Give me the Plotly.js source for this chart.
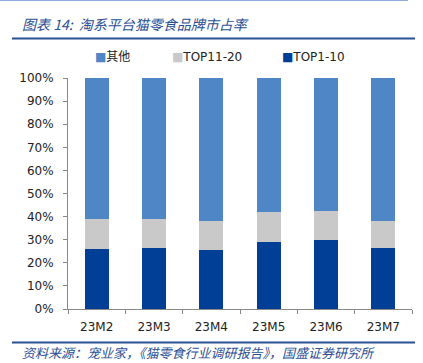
<!DOCTYPE html>
<html>
<head>
<meta charset="utf-8">
<script src="https://cdn.plot.ly/plotly-3.0.1.min.js"></script>
<style>html,body{margin:0;padding:0;background:#fff;}#chart{width:423px;height:363px;}</style>
</head>
<body>
<div id="chart"></div>
<script>
const categories = ['23M2', '23M3', '23M4', '23M5', '23M6', '23M7'];
const top1to10 = [0.261, 0.264, 0.257, 0.288, 0.299, 0.264];
const top11to20 = [0.127, 0.127, 0.124, 0.130, 0.125, 0.117];
const others = categories.map((c, i) => +(1 - top1to10[i] - top11to20[i]).toFixed(3));
const seriesNames = ['TOP1-10', 'TOP11-20', '其他'];
const titleText = '图表 14:  淘系平台猫零食品牌市占率';
const sourceText = '资料来源：宠业家，《猫零食行业调研报告》，国盛证券研究所';

const colors = ['#003F95', '#C9C9C9', '#4F86C6'];
const seriesVals = [top1to10, top11to20, others];

const data = seriesVals.map((v, i) => ({
  type: 'bar',
  name: seriesNames[i],
  x: categories,
  y: v,
  marker: {color: colors[i], line: {width: 0}},
  hoverinfo: 'skip',
  showlegend: false
}));

const H = 231, top0 = 78, W = 344, left0 = 68;
const py = p => (top0 + H - p) / H;
const px = p => (p - left0) / W;

// hand-drawn legend entries (order: 其他, TOP11-20, TOP1-10)
const legendX = [px(93), px(170), px(280)];
const legendAnn = [2, 1, 0].map((si, k) => ({
  xref: 'paper', yref: 'paper', x: legendX[k], y: py(57), xanchor: 'left', yanchor: 'middle',
  showarrow: false,
  text: '<span style="color:' + colors[si] + '">■</span>' + seriesNames[si],
  font: {family: 'DejaVu Sans, Noto Sans CJK SC, sans-serif', size: 12, color: '#222'}
}));

const layout = {
  width: 423, height: 363,
  margin: {l: 68, r: 11, t: 78, b: 54},
  paper_bgcolor: '#fff', plot_bgcolor: '#fff',
  barmode: 'stack',
  bargap: 0.58,
  font: {family: 'DejaVu Sans, sans-serif', size: 12, color: '#222'},
  showlegend: false,
  xaxis: {
    showline: true, linecolor: '#888', linewidth: 1,
    ticks: 'outside', tickson: 'boundaries', ticklen: 4, tickcolor: '#888',
    ticklabelstandoff: 7,
    showgrid: false, zeroline: false, fixedrange: true
  },
  yaxis: {
    range: [0, 1], dtick: 0.1, tickformat: '.0%',
    showline: true, linecolor: '#888', linewidth: 1,
    ticks: 'outside', ticklen: 4, tickcolor: '#888',
    ticklabelstandoff: 7,
    showgrid: false, zeroline: false, fixedrange: true
  },
  annotations: legendAnn.concat([
    {xref: 'paper', yref: 'paper', x: px(20), y: py(24), xanchor: 'left', yanchor: 'middle',
     text: '<i>' + titleText + '</i>', showarrow: false,
     font: {family: 'Noto Sans CJK SC, sans-serif', size: 14, color: '#2A4F95'}},
    {xref: 'paper', yref: 'paper', x: px(20), y: py(352), xanchor: 'left', yanchor: 'middle',
     text: '<i>' + sourceText + '</i>', showarrow: false,
     font: {family: 'Noto Sans CJK SC, sans-serif', size: 13, color: '#2A4F95'}}
  ]),
  shapes: [
    {type: 'line', xref: 'paper', yref: 'paper', x0: px(0), x1: px(408), y0: py(0.5), y1: py(0.5),
     line: {color: '#8EA9DB', width: 1}},
    {type: 'line', xref: 'paper', yref: 'paper', x0: px(12), x1: px(415), y0: py(38.5), y1: py(38.5),
     line: {color: '#2A4F95', width: 2}},
    {type: 'line', xref: 'paper', yref: 'paper', x0: px(12), x1: px(415), y0: py(342.5), y1: py(342.5),
     line: {color: '#2A4F95', width: 2}}
  ]
};

Plotly.newPlot('chart', data, layout, {displayModeBar: false, staticPlot: true});
</script>
</body>
</html>
